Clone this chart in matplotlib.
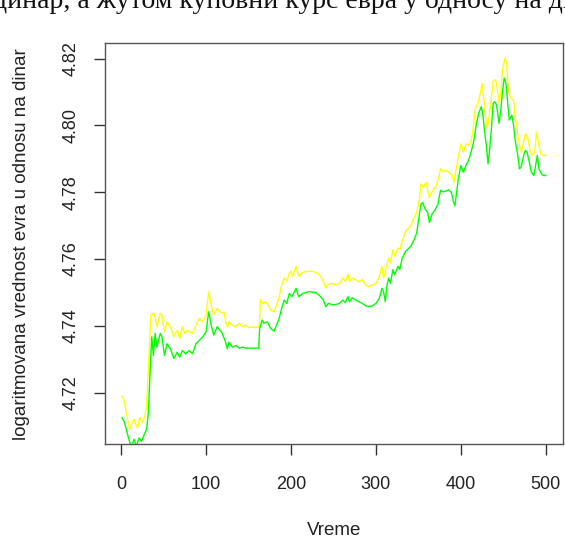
import numpy as np
import matplotlib.pyplot as plt

# procitano sa slike: vreme i logaritmovana vrednost
t_zuta = [1, 3, 10, 15, 19, 22, 25, 28, 30, 35, 39, 42, 46, 48, 51, 54, 58, 62, 66, 69,
          72, 75, 78, 84, 88, 92, 96, 100, 103, 106, 109, 113, 117, 121, 123, 125, 127, 131, 135, 139,
          143, 147, 151, 155, 158, 162, 163, 164, 167, 170, 173, 176, 180, 183, 186, 189, 192, 195, 198, 200,
          202, 206, 209, 213, 217, 225, 231, 235, 238, 241, 244, 249, 253, 257, 261, 264, 267, 269, 272, 276,
          280, 284, 288, 292, 296, 300, 304, 307, 309, 312, 315, 317, 320, 322, 326, 328, 331, 335, 337, 341,
          345, 348, 351, 353, 356, 359, 361, 363, 367, 371, 374, 376, 379, 382, 386, 390, 392, 394, 397, 400,
          403, 406, 409, 412, 414, 417, 420, 423, 425, 427, 429, 431, 433, 436, 438, 441, 443, 445, 447, 449,
          452, 454, 456, 459, 462, 464, 466, 468, 471, 474, 476, 479, 482, 484, 487, 489, 492, 494, 497, 500]
kupovni = [4.7188, 4.7180, 4.7090, 4.7120, 4.7095, 4.7125, 4.7110, 4.7130, 4.7160, 4.7432,
           4.7437, 4.7397, 4.7437, 4.7432, 4.7382, 4.7412, 4.7397, 4.7367, 4.7387, 4.7362,
           4.7397, 4.7377, 4.7387, 4.7377, 4.7402, 4.7422, 4.7412, 4.7432, 4.7502, 4.7462,
           4.7432, 4.7452, 4.7440, 4.7440, 4.7412, 4.7397, 4.7412, 4.7402, 4.7397, 4.7407,
           4.7397, 4.7402, 4.7394, 4.7397, 4.7394, 4.7397, 4.7412, 4.7478, 4.7467, 4.7472,
           4.7462, 4.7447, 4.7442, 4.7462, 4.7487, 4.7522, 4.7543, 4.7533, 4.7558, 4.7563,
           4.7548, 4.7578, 4.7548, 4.7558, 4.7563, 4.7563, 4.7558, 4.7548, 4.7533, 4.7513,
           4.7525, 4.7527, 4.7522, 4.7527, 4.7543, 4.7532, 4.7555, 4.7532, 4.7543, 4.7538,
           4.7532, 4.7538, 4.7522, 4.7517, 4.7522, 4.7527, 4.7548, 4.7578, 4.7543, 4.7573,
           4.7603, 4.7588, 4.7628, 4.7608, 4.7633, 4.7628, 4.7653, 4.7683, 4.7689, 4.7699,
           4.7724, 4.7740, 4.7774, 4.7825, 4.7815, 4.7830, 4.7805, 4.7784, 4.7805, 4.7820,
           4.7845, 4.7870, 4.7862, 4.7865, 4.7860, 4.7850, 4.7830, 4.7865, 4.7905, 4.7945,
           4.7920, 4.7945, 4.7940, 4.7955, 4.7980, 4.8051, 4.8066, 4.8096, 4.8126, 4.8081,
           4.8031, 4.7991, 4.8021, 4.8081, 4.8132, 4.8137, 4.8107, 4.8066, 4.8097, 4.8167,
           4.8202, 4.8187, 4.8101, 4.8081, 4.8076, 4.8026, 4.7996, 4.7955, 4.7920, 4.7950,
           4.7976, 4.7960, 4.7920, 4.7910, 4.7920, 4.7980, 4.7940, 4.7915, 4.7910, 4.7910]

t_zelena = [1, 4, 8, 12, 15, 18, 21, 24, 27, 30, 32, 34, 36, 38, 40, 42, 46, 48, 51, 54,
            58, 62, 66, 69, 72, 76, 80, 84, 88, 92, 96, 100, 103, 106, 109, 113, 117, 119, 123, 125,
            127, 131, 135, 139, 143, 147, 151, 155, 158, 162, 163, 166, 168, 172, 176, 180, 183, 186, 189, 192,
            195, 198, 201, 206, 209, 214, 221, 229, 235, 238, 241, 244, 249, 253, 257, 261, 264, 267, 269, 272,
            276, 280, 284, 288, 292, 296, 300, 304, 307, 309, 311, 313, 315, 317, 320, 322, 326, 328, 331, 335,
            337, 341, 345, 348, 350, 353, 355, 358, 361, 363, 366, 370, 373, 376, 379, 383, 386, 389, 391, 393,
            395, 397, 400, 403, 406, 409, 412, 415, 418, 421, 424, 426, 428, 430, 432, 434, 436, 438, 440, 442,
            445, 447, 449, 451, 453, 455, 457, 460, 462, 464, 467, 469, 471, 474, 476, 478, 481, 483, 486, 488,
            490, 492, 495, 497, 500]
prodajni = [4.7125, 4.7110, 4.7070, 4.7035, 4.7060, 4.7039, 4.7064, 4.7054, 4.7074, 4.7090,
            4.7140, 4.7261, 4.7367, 4.7311, 4.7377, 4.7336, 4.7377, 4.7367, 4.7311, 4.7346,
            4.7331, 4.7302, 4.7321, 4.7306, 4.7326, 4.7316, 4.7326, 4.7316, 4.7346, 4.7356,
            4.7367, 4.7382, 4.7442, 4.7402, 4.7372, 4.7397, 4.7385, 4.7377, 4.7351, 4.7331,
            4.7351, 4.7336, 4.7341, 4.7333, 4.7336, 4.7333, 4.7333, 4.7333, 4.7333, 4.7333,
            4.7392, 4.7417, 4.7407, 4.7412, 4.7392, 4.7384, 4.7402, 4.7422, 4.7452, 4.7477,
            4.7467, 4.7497, 4.7487, 4.7512, 4.7487, 4.7497, 4.7502, 4.7500, 4.7487, 4.7477,
            4.7457, 4.7467, 4.7463, 4.7464, 4.7467, 4.7477, 4.7470, 4.7487, 4.7472, 4.7484,
            4.7477, 4.7472, 4.7467, 4.7460, 4.7457, 4.7460, 4.7467, 4.7482, 4.7512, 4.7502,
            4.7472, 4.7522, 4.7543, 4.7527, 4.7568, 4.7553, 4.7578, 4.7568, 4.7603, 4.7623,
            4.7628, 4.7638, 4.7658, 4.7678, 4.7714, 4.7764, 4.7769, 4.7749, 4.7739, 4.7709,
            4.7734, 4.7749, 4.7764, 4.7806, 4.7801, 4.7804, 4.7807, 4.7799, 4.7774, 4.7759,
            4.7799, 4.7840, 4.7880, 4.7860, 4.7880, 4.7895, 4.7920, 4.7950, 4.8001, 4.8036,
            4.8056, 4.8031, 4.7980, 4.7940, 4.7885, 4.7930, 4.7991, 4.8066, 4.8071, 4.8061,
            4.8006, 4.8046, 4.8101, 4.8142, 4.8127, 4.8071, 4.8016, 4.8031, 4.8001, 4.7955,
            4.7910, 4.7870, 4.7875, 4.7910, 4.7925, 4.7920, 4.7885, 4.7860, 4.7850, 4.7880,
            4.7910, 4.7870, 4.7855, 4.7850, 4.7850]

x_ticks = [0, 100, 200, 300, 400, 500]
y_ticks = [4.72, 4.74, 4.76, 4.78, 4.80, 4.82]

plt.rcParams['font.family'] = ['Liberation Sans', 'DejaVu Sans']

fig = plt.figure(figsize=(5.65, 5.39), dpi=100)
ax = fig.add_axes([0.186, 0.176, 0.810, 0.744])

ax.plot(t_zuta, kupovni, color="#ffff00", lw=1.0)
ax.plot(t_zelena, prodajni, color="#00ff00", lw=1.0)

# granice kao u R-u: prva serija + 4%
x_r = max(t_zuta) - min(t_zuta)
y_r = max(kupovni) - min(kupovni)
ax.set_xlim(min(t_zuta) - 0.04 * x_r, max(t_zuta) + 0.04 * x_r)
ax.set_ylim(min(kupovni) - 0.04 * y_r, max(kupovni) + 0.04 * y_r)

ax.set_xticks(x_ticks)
ax.set_yticks(y_ticks)
ax.set_yticklabels(["%.2f" % v for v in y_ticks], rotation=90, va="center")
ax.tick_params(axis="x", direction="out", length=8, width=1, color="#333333",
               labelsize=13, labelcolor="#222222", pad=15)
ax.tick_params(axis="y", direction="out", length=8, width=1, color="#333333",
               labelsize=13, labelcolor="#222222", pad=10)
for s in ax.spines.values():
    s.set_color("#555555")
    s.set_linewidth(1.0)

ax.set_xlabel("Vreme", fontsize=13.5, color="#222222", labelpad=21)
ax.set_ylabel("logaritmovana vrednost evra u odnosu na dinar", fontsize=13.5,
              color="#222222", labelpad=24)

# odsecen tekst iz dokumenta iznad slike
fig.text(-0.012, 1 - 8 / 539, "динар, а жутом куповни курс евра у односу на динар",
         fontsize=20, family=["Liberation Serif", "DejaVu Serif"], va="baseline",
         color="#111111")

fig.savefig("out.png", dpi=100)
